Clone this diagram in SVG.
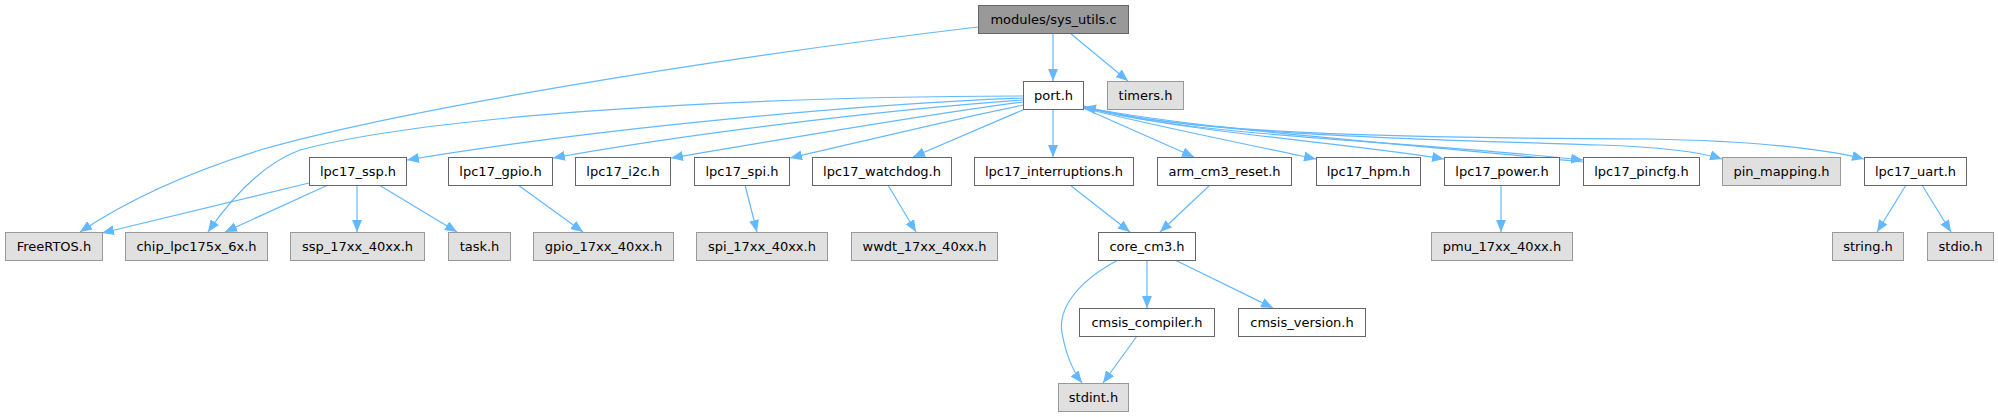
<svg xmlns="http://www.w3.org/2000/svg" width="1998" height="417" viewBox="0 0 1998 417">
<style>
.n rect{stroke-width:1}
.w rect{fill:#ffffff;stroke:#666666}
.g rect{fill:#e0e0e0;stroke:#999999}
.r rect{fill:#999999;stroke:#666666}
text{font-family:"DejaVu Sans","Liberation Sans",sans-serif;font-size:13px;fill:#000;text-anchor:middle}
.e path{fill:none;stroke:#63b8ff;stroke-width:1.2;marker-end:url(#a)}
</style>
<defs>
<marker id="a" markerUnits="userSpaceOnUse" markerWidth="13" markerHeight="10" refX="12" refY="5" orient="auto">
<path d="M0,0 L12,5 L0,10 z" fill="#63b8ff"/>
</marker>
</defs>
<rect width="1998" height="417" fill="#ffffff"/>
<g class="e" id="edges">
<path d="M978,27 C700,60 400,110 260,150 C180,175 120,205 80,232"/>
<path d="M1053,33 L1053,81"/>
<path d="M1070,33 L1128,81"/>
<path d="M1023,96 C700,97 420,118 300,150 C260,165 230,200 208,232"/>
<path d="M1023,98 C850,105 600,128 407,160"/>
<path d="M1023,100 C880,110 680,135 553,158"/>
<path d="M1023,102 C920,115 780,140 671,158"/>
<path d="M1023,105 C950,120 860,142 790,158"/>
<path d="M1025,109 L913,157"/>
<path d="M1053,109 L1053,157"/>
<path d="M1083,108 L1194,157"/>
<path d="M1083,108 C1150,125 1250,145 1316,159"/>
<path d="M1083,107 C1180,132 1350,143 1444,159"/>
<path d="M1083,106 C1180,136 1400,140 1583,160"/>
<path d="M1583,162 C1400,143 1200,130 1084,107"/>
<path d="M1083,106 C1180,135 1450,140 1600,145 C1660,147 1700,152 1722,159"/>
<path d="M1083,106 C1180,134 1400,138 1650,139 C1760,141 1830,150 1864,159"/>
<path d="M309,183 L102,233"/>
<path d="M328,185 L225,232"/>
<path d="M357,185 L357,232"/>
<path d="M379,185 L457,232"/>
<path d="M518,185 L583,232"/>
<path d="M745,185 L757,232"/>
<path d="M888,185 L916,232"/>
<path d="M1070,185 L1130,232"/>
<path d="M1210,185 L1160,232"/>
<path d="M1501,185 L1501,232"/>
<path d="M1906,185 L1877,232"/>
<path d="M1922,185 L1951,232"/>
<path d="M1118,260 C1075,283 1058,310 1062,333 C1066,355 1072,370 1082,383"/>
<path d="M1147,260 L1147,308"/>
<path d="M1175,260 L1273,308"/>
<path d="M1137,336 L1103,383"/>
</g>
<g id="n_sys_utils" class="n r"><rect x="978.5" y="5.5" width="150" height="28"/><text x="1053.5" y="24">modules/sys_utils.c</text></g>
<g id="n_port" class="n w"><rect x="1023.5" y="81.5" width="60" height="28"/><text x="1053.5" y="100">port.h</text></g>
<g id="n_timers" class="n g"><rect x="1107.5" y="81.5" width="76" height="28"/><text x="1145.5" y="100">timers.h</text></g>
<g id="n_ssp" class="n w"><rect x="309.5" y="157.5" width="97" height="28"/><text x="358" y="176">lpc17_ssp.h</text></g>
<g id="n_gpio" class="n w"><rect x="448.5" y="157.5" width="104" height="28"/><text x="500.5" y="176">lpc17_gpio.h</text></g>
<g id="n_i2c" class="n w"><rect x="575.5" y="157.5" width="95" height="28"/><text x="623" y="176">lpc17_i2c.h</text></g>
<g id="n_spi" class="n w"><rect x="694.5" y="157.5" width="95" height="28"/><text x="742" y="176">lpc17_spi.h</text></g>
<g id="n_watchdog" class="n w"><rect x="812.5" y="157.5" width="139" height="28"/><text x="882" y="176">lpc17_watchdog.h</text></g>
<g id="n_interruptions" class="n w"><rect x="974.5" y="157.5" width="159" height="28"/><text x="1054" y="176">lpc17_interruptions.h</text></g>
<g id="n_arm_cm3_reset" class="n w"><rect x="1157.5" y="157.5" width="134" height="28"/><text x="1224.5" y="176">arm_cm3_reset.h</text></g>
<g id="n_hpm" class="n w"><rect x="1316.5" y="157.5" width="104" height="28"/><text x="1368.5" y="176">lpc17_hpm.h</text></g>
<g id="n_power" class="n w"><rect x="1444.5" y="157.5" width="115" height="28"/><text x="1502" y="176">lpc17_power.h</text></g>
<g id="n_pincfg" class="n w"><rect x="1583.5" y="157.5" width="116" height="28"/><text x="1641.5" y="176">lpc17_pincfg.h</text></g>
<g id="n_pin_mapping" class="n g"><rect x="1722.5" y="157.5" width="118" height="28"/><text x="1781.5" y="176">pin_mapping.h</text></g>
<g id="n_uart" class="n w"><rect x="1864.5" y="157.5" width="102" height="28"/><text x="1915.5" y="176">lpc17_uart.h</text></g>
<g id="n_freertos" class="n g"><rect x="5.5" y="232.5" width="97" height="28"/><text x="54" y="251">FreeRTOS.h</text></g>
<g id="n_chip" class="n g"><rect x="125.5" y="232.5" width="142" height="28"/><text x="196.5" y="251">chip_lpc175x_6x.h</text></g>
<g id="n_ssp_17xx" class="n g"><rect x="290.5" y="232.5" width="134" height="28"/><text x="357.5" y="251">ssp_17xx_40xx.h</text></g>
<g id="n_task" class="n g"><rect x="448.5" y="232.5" width="62" height="28"/><text x="479.5" y="251">task.h</text></g>
<g id="n_gpio_17xx" class="n g"><rect x="533.5" y="232.5" width="140" height="28"/><text x="603.5" y="251">gpio_17xx_40xx.h</text></g>
<g id="n_spi_17xx" class="n g"><rect x="696.5" y="232.5" width="131" height="28"/><text x="762" y="251">spi_17xx_40xx.h</text></g>
<g id="n_wwdt" class="n g"><rect x="851.5" y="232.5" width="146" height="28"/><text x="924.5" y="251">wwdt_17xx_40xx.h</text></g>
<g id="n_core_cm3" class="n w"><rect x="1098.5" y="232.5" width="97" height="28"/><text x="1147" y="251">core_cm3.h</text></g>
<g id="n_pmu" class="n g"><rect x="1431.5" y="232.5" width="141" height="28"/><text x="1502" y="251">pmu_17xx_40xx.h</text></g>
<g id="n_string" class="n g"><rect x="1832.5" y="232.5" width="71" height="28"/><text x="1868" y="251">string.h</text></g>
<g id="n_stdio" class="n g"><rect x="1927.5" y="232.5" width="66" height="28"/><text x="1960.5" y="251">stdio.h</text></g>
<g id="n_cmsis_compiler" class="n w"><rect x="1079.5" y="308.5" width="135" height="28"/><text x="1147" y="327">cmsis_compiler.h</text></g>
<g id="n_cmsis_version" class="n w"><rect x="1238.5" y="308.5" width="127" height="28"/><text x="1302" y="327">cmsis_version.h</text></g>
<g id="n_stdint" class="n g"><rect x="1058.5" y="383.5" width="70" height="28"/><text x="1093.5" y="402">stdint.h</text></g>
</svg>
